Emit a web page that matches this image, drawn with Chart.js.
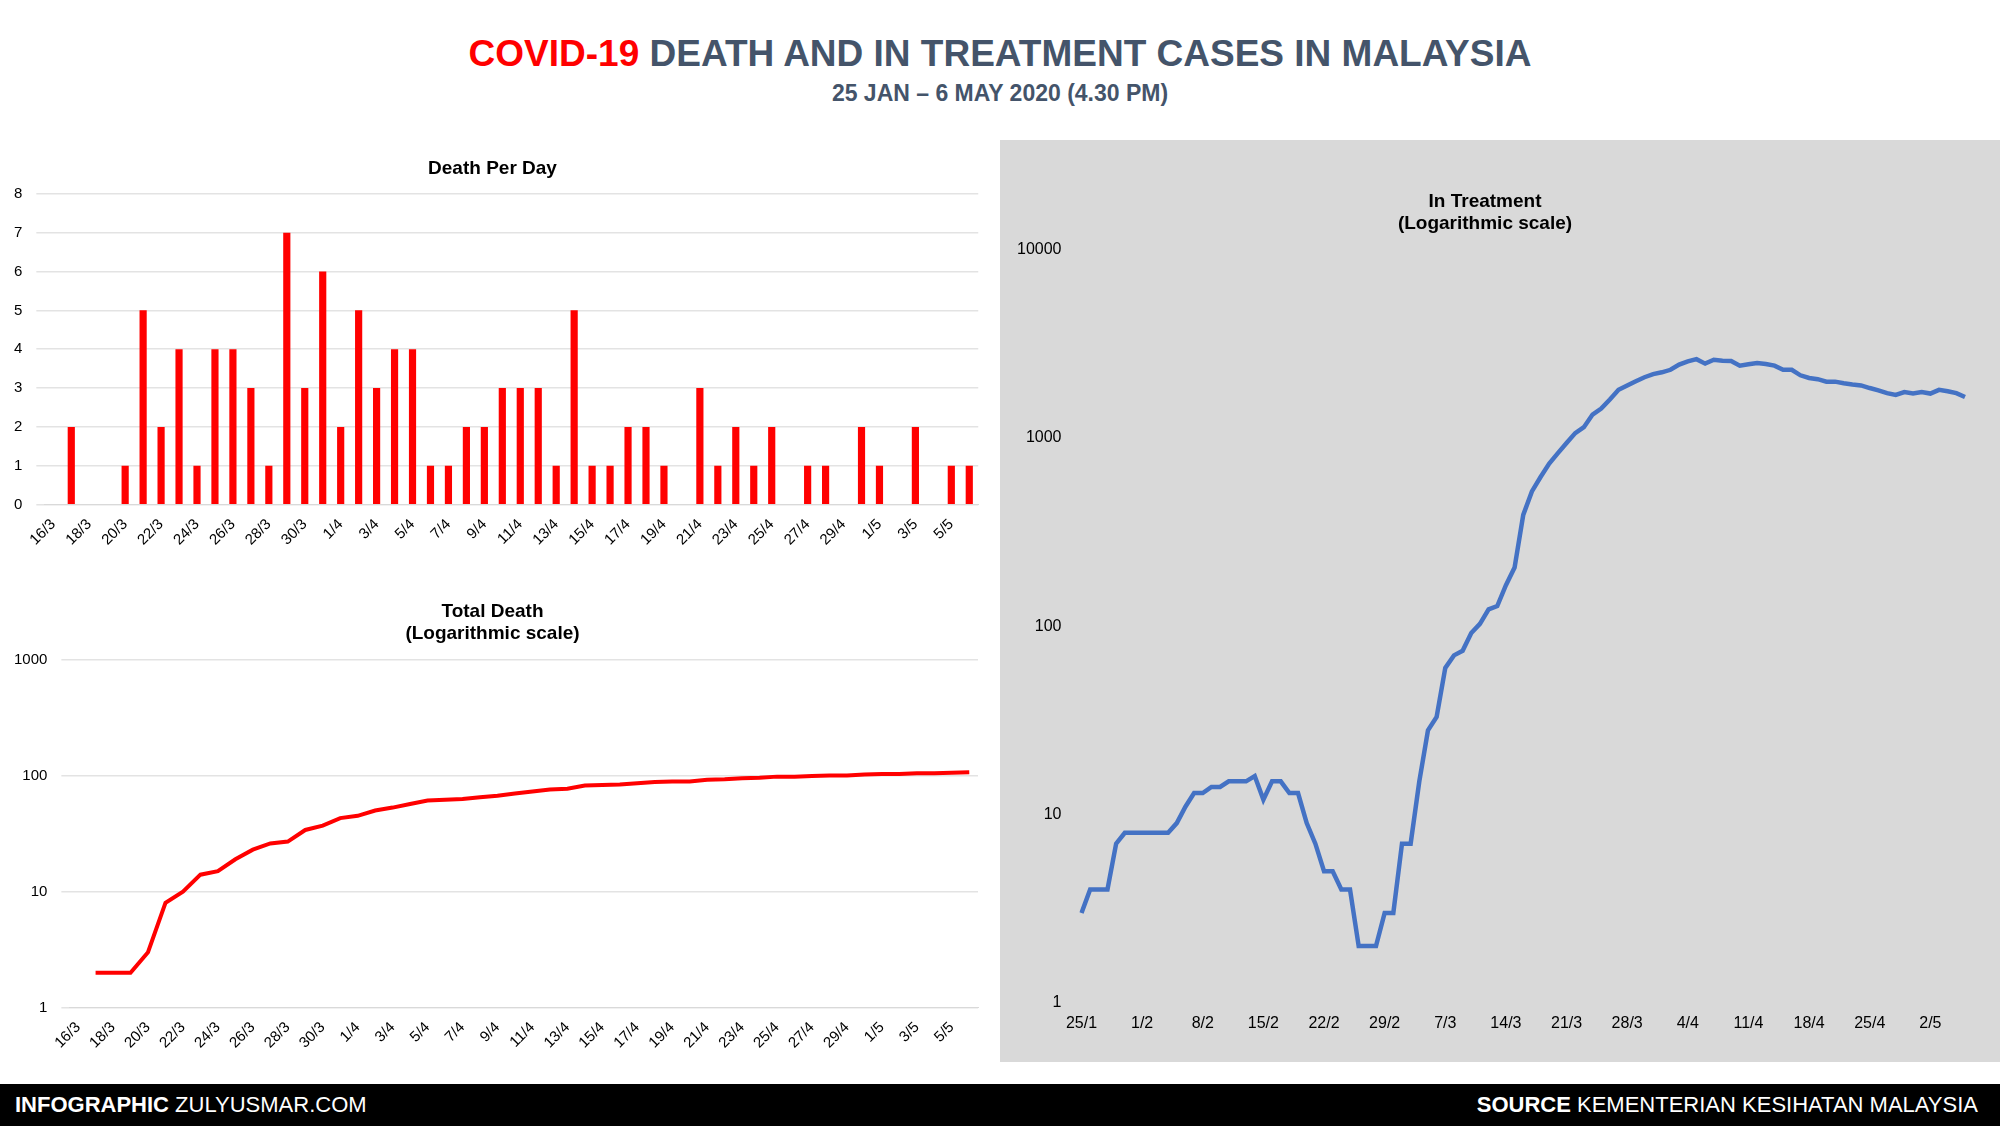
<!DOCTYPE html>
<html><head><meta charset="utf-8">
<script src="https://cdn.jsdelivr.net/npm/chart.js@4.4.0/dist/chart.umd.min.js"></script>
<style>
body{margin:0;width:2000px;height:1131px;background:#fff;font-family:"Liberation Sans",Arial,sans-serif;position:relative;overflow:hidden}
.box{position:absolute}
#t1{position:absolute;top:33px;width:2000px;text-align:center;font-size:37px;font-weight:bold;color:#44546a}
#t2{position:absolute;top:80px;width:2000px;text-align:center;font-size:23px;font-weight:bold;color:#44546a}
#panel{position:absolute;left:1000px;top:140px;width:1000px;height:922px;background:#d9d9d9}
#foot{position:absolute;left:0;top:1084px;width:2000px;height:42px;background:#000;color:#fff;font-size:22px;line-height:42px}
</style></head><body>
<div id="t1"><span style="color:#ff0000">COVID-19</span> DEATH AND IN TREATMENT CASES IN MALAYSIA</div>
<div id="t2">25 JAN – 6 MAY 2020 (4.30 PM)</div>
<div id="panel"></div>
<div class="box" style="left:0;top:157px;width:985px;height:395px"><canvas id="bar"></canvas></div>
<div class="box" style="left:0;top:600px;width:985px;height:455px"><canvas id="total"></canvas></div>
<div class="box" style="left:1005px;top:190px;width:985px;height:846px"><canvas id="treat"></canvas></div>
<div id="foot"><span style="position:absolute;left:15px"><b>INFOGRAPHIC</b> ZULYUSMAR.COM</span><span style="position:absolute;right:22px"><b>SOURCE</b> KEMENTERIAN KESIHATAN MALAYSIA</span></div>
<script>
// Death chart dates 16/3 - 6/5
const deathDates = [];
for (let d = 16; d <= 31; d++) deathDates.push(d + '/3');
for (let d = 1; d <= 30; d++) deathDates.push(d + '/4');
for (let d = 1; d <= 6; d++) deathDates.push(d + '/5');

const deathPerDay = [0,2,0,0,1,5,2,4,1,4,4,3,1,7,3,6,2,5,3,4,4,1,1,2,2,3,3,3,1,5,1,1,2,2,1,0,3,1,2,1,2,0,1,1,0,2,1,0,2,0,1,1];
const totalDeath = [null,2,2,2,3,8,10,14,15,19,23,26,27,34,37,43,45,50,53,57,61,62,63,65,67,70,73,76,77,82,83,84,86,88,89,89,92,93,95,96,98,98,99,100,100,102,103,103,105,105,106,107];

// In treatment dates 25/1 - 6/5
const treatDates = [];
for (let d = 25; d <= 31; d++) treatDates.push(d + '/1');
for (let d = 1; d <= 29; d++) treatDates.push(d + '/2');
for (let d = 1; d <= 31; d++) treatDates.push(d + '/3');
for (let d = 1; d <= 30; d++) treatDates.push(d + '/4');
for (let d = 1; d <= 6; d++) treatDates.push(d + '/5');

const inTreatment = [3,4,4,4,7,8,8,
  8,8,8,8,9,11,13,13,14,14,15,15,15,16,12,15,15,13,13,9,7,5,5,4,4,2,2,2,3,3,
  7,7,15,28,33,60,70,74,92,103,123,128,165,205,390,520,620,730,830,940,1060,1140,1330,1430,1600,1800,1900,2000,2100,2180,2230,
  2300,2450,2550,2620,2480,2600,2570,2560,2420,2460,2500,2470,2420,2300,2300,2150,2080,2050,1990,1990,1950,1920,1900,1840,1790,1730,1690,1750,1720,1750,
  1720,1800,1770,1730,1650,1590];

const logTicks = [1, 10, 100, 1000, 10000];
Chart.defaults.font.family = 'Liberation Sans';
Chart.defaults.color = '#000';

function titleOpt(text) {
  return {display: true, text: text, font: {size: 19, weight: 'bold'}, color: '#000', padding: {bottom: 14}};
}
function everyOther(v, i) { return i % 2 === 0 ? deathDates[i] : ''; }

new Chart(document.getElementById('bar'), {
  type: 'bar',
  data: {labels: deathDates, datasets: [{data: deathPerDay, backgroundColor: '#ff0000', barPercentage: 0.4, categoryPercentage: 1}]},
  options: {
    responsive: true, maintainAspectRatio: false, animation: false,
    plugins: {legend: {display: false}, title: titleOpt('Death Per Day')},
    scales: {
      x: {grid: {display: false}, border: {color: '#d9d9d9'},
          ticks: {autoSkip: false, maxRotation: 45, minRotation: 45, font: {size: 15}, callback: everyOther}},
      y: {min: 0, max: 8, grid: {color: '#e3e3e3', lineWidth: 1.5}, border: {display: false},
          ticks: {stepSize: 1, font: {size: 15}, padding: 14}}
    }
  }
});

new Chart(document.getElementById('total'), {
  type: 'line',
  data: {labels: deathDates, datasets: [{data: totalDeath, borderColor: '#ff0000', borderWidth: 4, pointRadius: 0, tension: 0}]},
  options: {
    responsive: true, maintainAspectRatio: false, animation: false,
    plugins: {legend: {display: false}, title: titleOpt(['Total Death', '(Logarithmic scale)'])},
    scales: {
      x: {offset: true, grid: {display: false}, border: {color: '#d9d9d9'},
          ticks: {autoSkip: false, maxRotation: 45, minRotation: 45, font: {size: 15}, callback: everyOther}},
      y: {type: 'logarithmic', min: 1, max: 1000, grid: {color: '#e3e3e3', lineWidth: 1.5}, border: {display: false},
          afterBuildTicks: s => { s.ticks = logTicks.slice(0, 4).map(v => ({value: v})); },
          ticks: {font: {size: 15}, padding: 14, callback: v => String(v)}}
    }
  }
});

new Chart(document.getElementById('treat'), {
  type: 'line',
  data: {labels: treatDates, datasets: [{data: inTreatment, borderColor: '#4472c4', borderWidth: 4.5, pointRadius: 0, tension: 0}]},
  options: {
    responsive: true, maintainAspectRatio: false, animation: false,
    layout: {padding: {right: 25}},
    plugins: {legend: {display: false}, title: titleOpt(['In Treatment', '(Logarithmic scale)'])},
    scales: {
      x: {grid: {display: false}, border: {display: false},
          ticks: {autoSkip: false, maxRotation: 0, minRotation: 0, font: {size: 16},
                  callback: (v, i) => i % 7 === 0 ? treatDates[i] : ''}},
      y: {type: 'logarithmic', min: 1, max: 10000, grid: {display: false}, border: {display: false},
          afterBuildTicks: s => { s.ticks = logTicks.map(v => ({value: v})); },
          ticks: {font: {size: 16}, padding: 12, callback: v => String(v)}}
    }
  }
});
</script>
</body></html>
